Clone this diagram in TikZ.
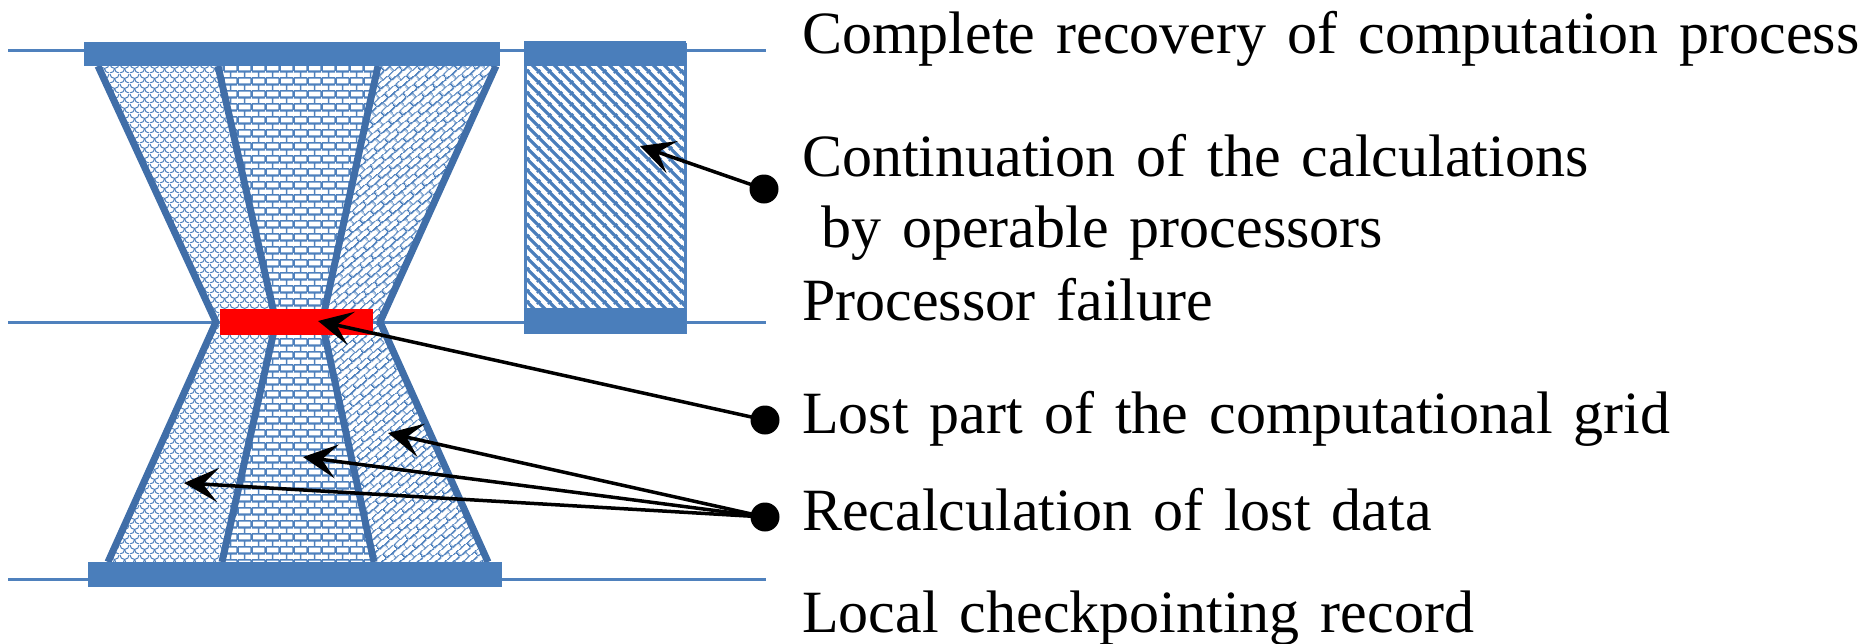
\documentclass[tikz,border=0pt]{standalone}
\usepackage{fontspec}
\setmainfont{Liberation Serif}
\usetikzlibrary{patterns.meta,arrows.meta}
\definecolor{barblue}{RGB}{74,126,187}
\definecolor{edgeblue}{RGB}{64,110,168}
\definecolor{lineblue}{RGB}{79,129,189}
\definecolor{patblue}{RGB}{79,129,189}

\tikzdeclarepattern{
  name=hbricks, type=uncolored,
  bounding box={(0pt,0pt) and (14pt,13pt)},
  tile size={(14pt,13pt)},
  code={
    \draw[line width=1.6pt] (0pt,0pt)--(14pt,0pt) (0pt,6.5pt)--(14pt,6.5pt) (0pt,13pt)--(14pt,13pt)
      (0pt,0pt)--(0pt,6.5pt) (14pt,0pt)--(14pt,6.5pt) (7pt,6.5pt)--(7pt,13pt);
  }
}
\tikzdeclarepattern{
  name=dbricks, type=uncolored,
  bounding box={(0pt,0pt) and (14pt,12pt)},
  tile size={(14pt,12pt)},
  tile transformation={rotate=40},
  code={
    \draw[line width=1.3pt] (0pt,0pt)--(14pt,0pt) (0pt,6pt)--(14pt,6pt) (0pt,12pt)--(14pt,12pt)
      (0pt,0pt)--(0pt,6pt) (14pt,0pt)--(14pt,6pt) (7pt,6pt)--(7pt,12pt);
  }
}
\tikzdeclarepattern{
  name=wdiag, type=uncolored,
  bounding box={(0pt,0pt) and (11pt,11pt)},
  tile size={(11pt,11pt)},
  code={
    \draw[line width=3.6pt] (-1pt,1pt)--(1pt,-1pt) (-1pt,12pt)--(12pt,-1pt) (10pt,12pt)--(12pt,10pt);
  }
}
\tikzdeclarepattern{
  name=shingle, type=uncolored,
  bounding box={(0pt,0pt) and (10pt,10pt)},
  tile size={(10pt,10pt)},
  code={
    \draw[line width=1.1pt] (0pt,10pt) arc[start angle=180, end angle=360, radius=5pt];
    \draw[line width=1.1pt] (0pt,0pt) arc[start angle=270, end angle=360, radius=5pt];
    \draw[line width=1.1pt] (10pt,0pt) arc[start angle=270, end angle=180, radius=5pt];
  }
}

\tikzset{
  hline/.style={lineblue, line width=3pt},
  edge/.style={edgeblue, line width=7pt, line join=round},
  bar/.style={fill=barblue, draw=none},
  arr/.style={-{Stealth[length=34pt,width=34pt,inset=15pt]}, line width=3.5pt, black, shorten <=-2pt},
  bullet/.style={circle, fill=black, minimum size=29pt, inner sep=0pt},
  lbl/.style={anchor=base west, inner sep=0pt, font=\fontsize{60}{72}\selectfont,
    execute at begin node={\spaceskip=21pt\relax}}
}

\begin{document}
\begin{tikzpicture}[x=1pt,y=-1pt]
\useasboundingbox (0,0) rectangle (1874,643);

% horizontal reference lines
\draw[hline] (8,50) -- (766,50);
\draw[hline] (8,322) -- (766,322);
\draw[hline] (8,579) -- (766,579);

% patterned regions
\fill[pattern=shingle, pattern color=patblue] (98,66) -- (218,66) -- (276,322) -- (216,322) -- cycle;
\fill[pattern=hbricks, pattern color=patblue] (218,66) -- (378,66) -- (322,322) -- (276,322) -- cycle;
\fill[pattern=dbricks, pattern color=patblue] (378,66) -- (496,66) -- (380,322) -- (322,322) -- cycle;
\fill[pattern=shingle, pattern color=patblue] (216,322) -- (276,322) -- (222,562) -- (108,562) -- cycle;
\fill[pattern=hbricks, pattern color=patblue] (276,322) -- (322,322) -- (374,562) -- (222,562) -- cycle;
\fill[pattern=dbricks, pattern color=patblue] (322,322) -- (380,322) -- (488,562) -- (374,562) -- cycle;

% edges
\draw[edge] (98,66) -- (216,322) -- (108,562);
\draw[edge] (218,66) -- (276,322) -- (222,562);
\draw[edge] (378,66) -- (322,322) -- (374,562);
\draw[edge] (496,66) -- (380,322) -- (488,562);

% bars
\fill[bar] (84,42) rectangle (500,66);
\fill[bar] (88,562) rectangle (502,587);

% right box
\draw[lineblue, line width=3pt, pattern=wdiag, pattern color=barblue] (525,44) rectangle (685,332);
\fill[bar] (524,41) rectangle (686,66);
\fill[bar] (524,308) rectangle (686,334);

% lost part
\fill[red] (220,309) rectangle (373,335);

% bullets and targets
\node[bullet] (b1) at (764,189) {};
\node[bullet] (b2) at (765,420) {};
\node[bullet] (b3) at (765,517) {};
\coordinate (t1) at (640,146);
\coordinate (t2) at (318,321);
\coordinate (t3) at (388,433);
\coordinate (t4) at (303,457);
\coordinate (t5) at (184,483);
\draw[arr] (b1) -- (t1);
\draw[arr] (b2) -- (t2);
\draw[arr] (b3) -- (t3);
\draw[arr] (b3) -- (t4);
\draw[arr] (b3) -- (t5);

% labels
\node[lbl] (l1) at (802,53) {Complete recovery of computation process};
\node[lbl] (l2) at (802,176) {Continuation of the calculations};
\node[lbl] (l3) at (821,247) {by operable processors};
\node[lbl] (l4) at (802,320) {Processor failure};
\node[lbl] (l5) at (802,433) {Lost part of the computational grid};
\node[lbl] (l6) at (802,530) {Recalculation of lost data};
\node[lbl] (l7) at (802,632) {Local checkpointing record};
\end{tikzpicture}
\end{document}
